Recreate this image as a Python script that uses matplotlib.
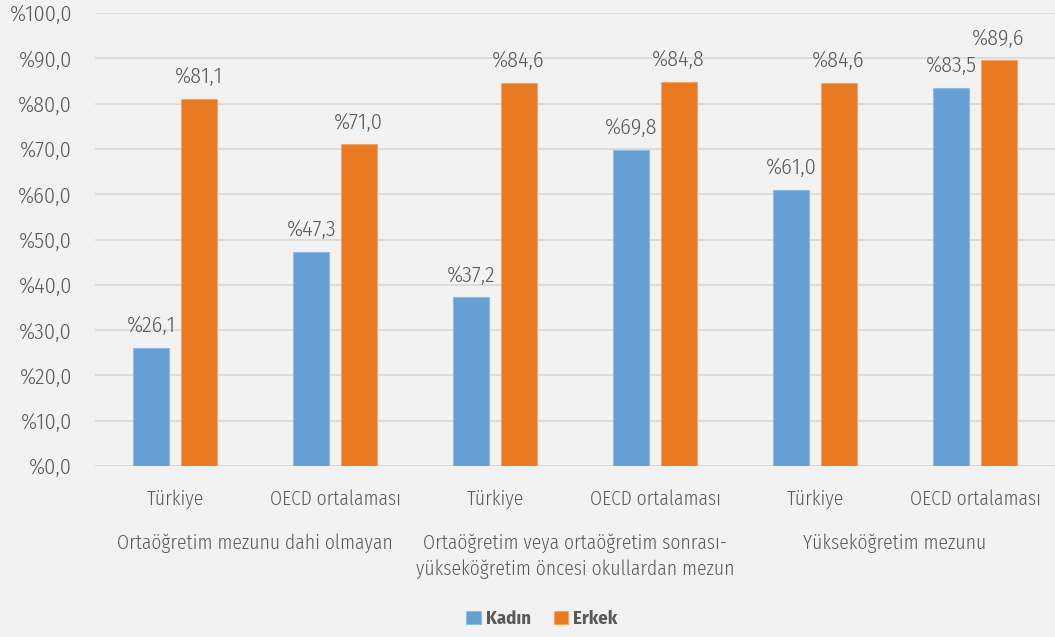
import matplotlib
matplotlib.use("Agg")
import matplotlib.pyplot as plt
import numpy as np

plt.rcParams['font.family'] = ['Fira Sans Condensed', 'DejaVu Sans']
plt.rcParams['font.weight'] = 300

categories = ["Türkiye", "OECD ortalaması", "Türkiye", "OECD ortalaması", "Türkiye", "OECD ortalaması"]
groups = ["Ortaöğretim mezunu dahi olmayan",
          "Ortaöğretim veya ortaöğretim sonrası-\nyükseköğretim öncesi okullardan mezun",
          "Yükseköğretim mezunu"]
kadin = [26.1, 47.3, 37.2, 69.8, 61.0, 83.5]
erkek = [81.1, 71.0, 84.6, 84.8, 84.6, 89.6]
yticks = list(range(0, 101, 10))

blue = "#659fd4"
orange = "#e97a22"
txt = "#595959"
bg = "#f2f2f2"
fs = 14
fsn = 16

fig = plt.figure(figsize=(10.55, 6.37), dpi=100, facecolor=bg)
ax = fig.add_axes([95/1055, 1-466/637, 960/1055, (466-13)/637], facecolor=bg)

x = np.arange(len(categories))
w = 0.225
off = 0.1475
b1 = ax.bar(x - off, kadin, w, color=blue, edgecolor="#8fbbe4", linewidth=0.8, label="Kadın", zorder=3)
b2 = ax.bar(x + off, erkek, w, color=orange, edgecolor="#f3a565", linewidth=0.8, label="Erkek", zorder=3)

def fmt(v):
    return "%" + f"{v:.1f}".replace(".", ",")

for bars, vals in ((b1, kadin), (b2, erkek)):
    for r, v in zip(bars, vals):
        ax.annotate(fmt(v), (r.get_x() + r.get_width()/2, v), xytext=(0, 8),
                    textcoords="offset points", ha="center", va="bottom",
                    fontsize=fsn, color=txt, zorder=4)

ax.set_ylim(0, 100)
ax.set_xlim(-0.5, len(categories) - 0.5)
ax.set_yticks(yticks)
ax.set_yticklabels([fmt(v) for v in yticks])
ax.yaxis.grid(True, color="#d9d9d9", linewidth=1.2, zorder=0)
ax.set_xticks(x)
ax.set_xticklabels(categories)
ax.tick_params(axis="both", length=0, labelcolor=txt)
ax.tick_params(axis="x", pad=17, labelsize=fs)
ax.tick_params(axis="y", pad=16.5, labelsize=fsn)
for s in ax.spines.values():
    s.set_visible(False)
ax.axhline(0, color="#d9d9d9", linewidth=1.2, zorder=2)

for i, g in enumerate(groups):
    fig.text((95 + 160 * (2 * i + 1)) / 1055, 1 - 533/637, g, ha="center", va="top",
             fontsize=fs, color=txt, linespacing=1.45)

leg = fig.legend(handles=[b1, b2], loc="center", bbox_to_anchor=(542/1055, 1 - 619/637),
                 ncol=2, frameon=False, handlelength=0.75, handleheight=0.75,
                 handletextpad=0.3, columnspacing=1.2, prop={"size": 13.5, "weight": "bold"})
for t in leg.get_texts():
    t.set_color(txt)

fig.savefig("out.png", dpi=100, facecolor=bg)
